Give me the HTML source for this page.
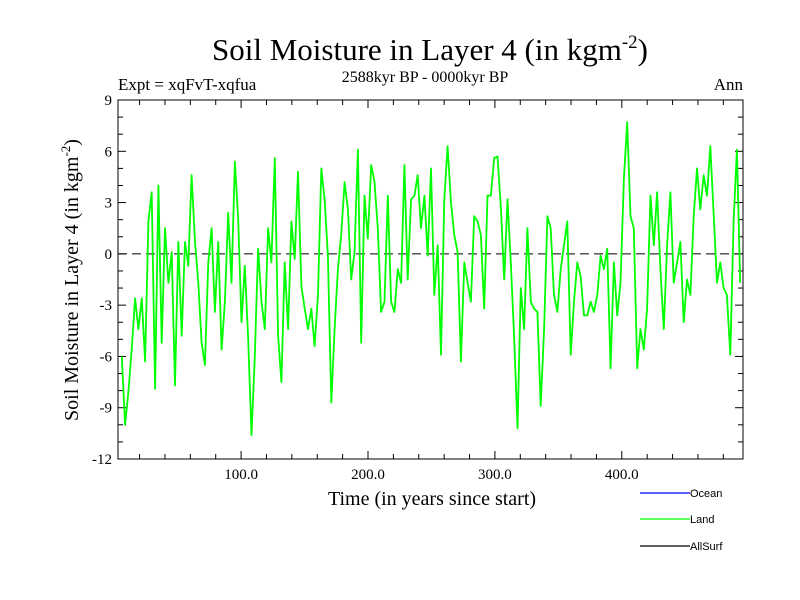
<!DOCTYPE html>
<html><head><meta charset="utf-8"><style>
body{margin:0;background:#fff}
svg{display:block}
</style></head><body>
<svg id="chart" width="800" height="600" viewBox="0 0 800 600" xmlns="http://www.w3.org/2000/svg" font-family="Liberation Serif, serif">
<text x="430" y="60" font-size="31" text-anchor="middle">Soil Moisture in Layer 4 (in kgm<tspan dy="-12" font-size="19">-2</tspan><tspan dy="12">)</tspan></text>
<text x="118" y="90" font-size="17">Expt = xqFvT-xqfua</text>
<text x="425" y="82" font-size="16" text-anchor="middle">2588kyr BP - 0000kyr BP</text>
<text x="743" y="90" font-size="17" text-anchor="end">Ann</text>
<text transform="translate(78,280) rotate(-90)" font-size="20" text-anchor="middle">Soil Moisture in Layer 4 (in kgm<tspan dy="-8" font-size="13">-2</tspan><tspan dy="8">)</tspan></text>
<text x="432" y="505" font-size="20" text-anchor="middle">Time (in years since start)</text>
<g id="axes"></g>
<g id="series"></g>
<rect x="118" y="100" width="625" height="359" fill="none" stroke="#000" stroke-width="1"/>
<g font-family="Liberation Sans, sans-serif" font-size="11">
<line x1="640" y1="493" x2="690" y2="493" stroke="#0000ff" stroke-width="1.2"/>
<text x="690" y="497">Ocean</text>
<line x1="640" y1="519" x2="690" y2="519" stroke="#00ff00" stroke-width="1.2"/>
<text x="690" y="523">Land</text>
<line x1="640" y1="546" x2="690" y2="546" stroke="#000" stroke-width="1.2"/>
<text x="690" y="550">AllSurf</text>
</g>
</svg>
<script>
const startYear = 6.0;
const yearStep = 2.62;
const landValues = [
-6,-10,-8,-5.5,-2.6,-4.4,-2.6,-6.3,1.9,3.6,-7.9,4,-5.2,1.5,-1.7,0.1,-7.7,0.7,-4.8,0.7,-0.7,4.6,0.7,-1.7,-5.2,-6.5,-0.5,1.5,-3.4,0.7,-5.6,-2.8,2.4,-1.7,5.4,2,-4,
-0.7,-5,-10.6,-6,0.3,-2.8,-4.4,1.5,-0.5,5.6,-4.8,-7.5,-0.5,-4.4,1.9,-0.3,4.8,-1.9,-3.2,-4.4,-3.2,-5.4,-2.4,5,3.2,-0.1,-8.7,-4.4,-0.9,1.1,4.2,2.6,-1.5,0.1,6.1,-5.2,3.4,
0.9,5.2,4.2,1.5,-3.4,-2.8,3.4,-2.8,-3.4,-0.9,-1.7,5.2,-1.5,3.2,3.4,4.6,1.5,3.4,-0.1,5,-2.4,0.5,-5.9,3.2,6.3,3,1.1,0.1,-6.3,-0.5,-1.7,-2.8,2.2,1.9,1.1,-3.2,3.4,
3.4,5.6,5.7,2.8,-1.5,3.2,-0.5,-4.8,-10.2,-2,-4.4,1.5,-2.8,-3.2,-3.4,-8.9,-4.4,2.2,1.5,-2.4,-3.4,-0.9,0.5,1.9,-5.9,-2.8,-0.5,-1.3,-3.6,-3.6,-2.8,-3.4,-2.4,-0.1,-0.9,0.3,-6.7,-0.5,
-3.6,-1.7,4.4,7.7,2.2,1.5,-6.7,-4.4,-5.6,-3.2,3.4,0.5,3.6,-0.9,-4.4,0.5,3.6,-1.7,-0.5,0.7,-4,-1.5,-2.4,2.2,5,2.6,4.6,3.4,6.3,2.4,-1.7,-0.5,-2,-2.4,-5.9,1.9,6.1,-1.7
];
const yTickValues = [-12,-9,-6,-3,0,3,6,9];
const xTickValues = [100,200,300,400];
const xTickLabels = ["100.0","200.0","300.0","400.0"];

const NS = "http://www.w3.org/2000/svg";
const X0=118,X1=743,Y0=100,Y1=459;
const xMin=3,xMax=495.5,yMin=-12,yMax=9;
function xs(v){return X0+(v-xMin)/(xMax-xMin)*(X1-X0);}
function ys(v){return Y1-(v-yMin)/(yMax-yMin)*(Y1-Y0);}
function mk(tag,attrs,parent){const e=document.createElementNS(NS,tag);for(const k in attrs)e.setAttribute(k,attrs[k]);parent.appendChild(e);return e;}
const axes=document.getElementById('axes');
for(let v=yMin;v<=yMax;v++){
  const major=(v%3===0);const len=major?8:5;
  const t=mk('line',{x1:X0,y1:ys(v),x2:X0+len,y2:ys(v),stroke:'#000'},axes);
  
  
  const t2=mk('line',{x1:X1,y1:ys(v),x2:X1-len,y2:ys(v),stroke:'#000'},axes);
  
  
}
yTickValues.forEach(v=>{
  const l=mk('text',{x:X0-6,y:ys(v)+5,'font-size':15,'text-anchor':'end'},axes);
  l.textContent=String(v);
  
  
});
for(let v=20;v<xMax;v+=20){
  const major=(v%100===0);const len=major?8:5;
  const t=mk('line',{x1:xs(v),y1:Y1,x2:xs(v),y2:Y1-len,stroke:'#000'},axes);
  
  
  const t2=mk('line',{x1:xs(v),y1:Y0,x2:xs(v),y2:Y0+len,stroke:'#000'},axes);
  
  
}
xTickValues.forEach((v,i)=>{
  const l=mk('text',{x:xs(v),y:Y1+20,'font-size':15,'text-anchor':'middle'},axes);
  l.textContent=xTickLabels[i];
  
  
});
const zl=mk('line',{x1:X0,y1:ys(0),x2:X1,y2:ys(0),stroke:'#000','stroke-dasharray':'9,5'},axes);


const series=document.getElementById('series');
const pts=landValues.map((v,i)=>xs(startYear+i*yearStep).toFixed(1)+','+ys(v).toFixed(1)).join(' ');
const pl=mk('polyline',{points:pts,fill:'none',stroke:'#00ff00','stroke-width':1.8,'stroke-linejoin':'round'},series);


</script>
</body></html>
